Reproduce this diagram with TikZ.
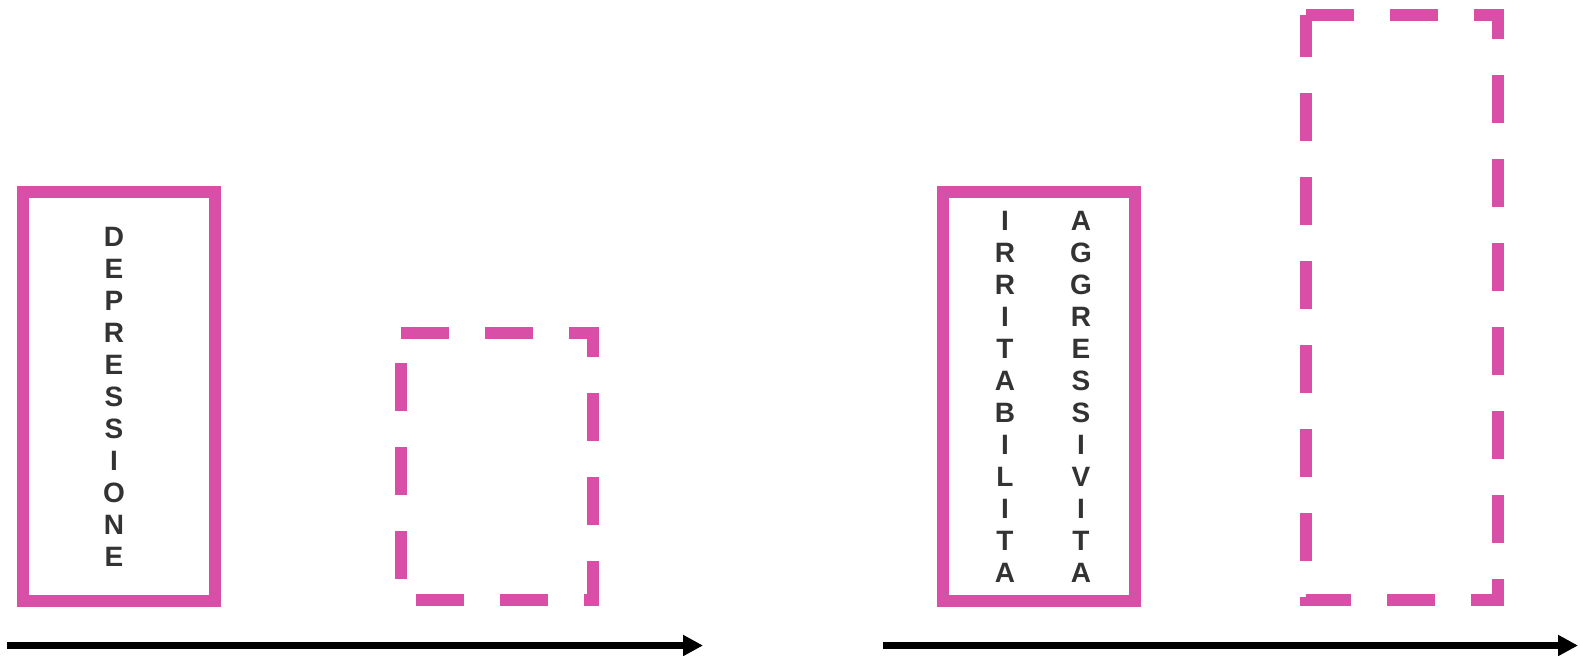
\documentclass[tikz,border=0pt]{standalone}
\usepackage{fontspec}
\setmainfont{Liberation Sans}
\usepackage{xcolor}
\usetikzlibrary{arrows.meta}
\definecolor{boxpink}{RGB}{217,79,168}
\definecolor{lettergray}{RGB}{51,51,51}

\begin{document}
\begin{tikzpicture}[
        x=0.5pt, y=-0.5pt,
        solidbox/.style={draw=boxpink, line width=6pt, minimum width=96pt, inner sep=0pt},
        dashbox/.style={draw=boxpink, line width=6pt, dash pattern=on 24pt off 18pt},
        ghost/.style={minimum width=96pt, inner sep=0pt, outer sep=0pt},
        vtext/.style={text=lettergray, align=center, inner sep=0pt,
            font=\fontsize{14pt}{16pt}\selectfont\bfseries},
        axis/.style={line width=3.5pt, -{Triangle[length=10pt, width=10pt]}}
    ]

        \useasboundingbox (0,0) rectangle (1580,655);

        \node[solidbox, minimum height=204.5pt] (dep) at (119,396.5) {};
        \node[vtext] (depText) at ([xshift=-2.5pt]dep.center) {D\\E\\P\\R\\E\\S\\S\\I\\O\\N\\E};

        \node[ghost, minimum height=133.5pt] (depNext) at (497,466.5) {};
        \draw[dashbox] (depNext.north west) -- (depNext.north east) -- (depNext.south east) -- (depNext.south west) -- cycle;

        \node[solidbox, minimum height=204.5pt] (irr) at (1039,396.5) {};
        \node[vtext] (irrText) at ([xshift=-17pt]irr.center) {I\\R\\R\\I\\T\\A\\B\\I\\L\\I\\T\\A};
        \node[vtext] (aggText) at ([xshift=21pt]irr.center) {A\\G\\G\\R\\E\\S\\S\\I\\V\\I\\T\\A};

        \node[ghost, minimum height=292.5pt] (irrNext) at (1402,307.5) {};
        \draw[dashbox] (irrNext.north west) -- (irrNext.north east) -- (irrNext.south east) -- (irrNext.south west) -- cycle;

        \coordinate (timeA0) at (7,645.5);
        \coordinate (timeA1) at (703,645.5);
        \coordinate (timeB0) at (883,645.5);
        \coordinate (timeB1) at (1578,645.5);
        \draw[axis] (timeA0) -- (timeA1);
        \draw[axis] (timeB0) -- (timeB1);

    \end{tikzpicture}
\end{document}
